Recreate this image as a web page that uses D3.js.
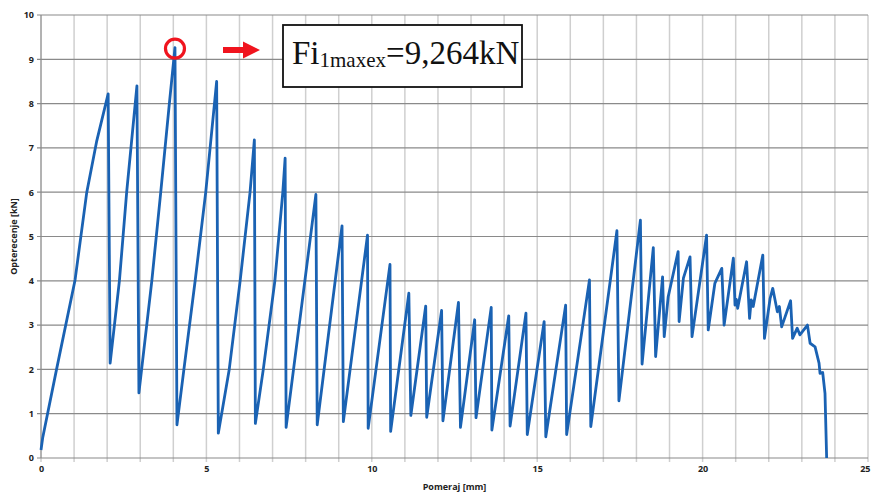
<html>
<head>
  <style>
	body{ margin:0; background:#fff }
	.grid-x line{ stroke:#cfcfcf; stroke-width:1.5px }
	.grid-y line{ stroke:#8a8a8a; stroke-width:1.2px }
	.axis path{ display:none }
	.axis line{ stroke:#8a8a8a }
	.axis text{ font-family:"Open Sans", sans-serif; font-size:9px; font-weight:700; fill:#222 }
	.title{ font-family:"Open Sans", sans-serif; font-size:9px; font-weight:700; fill:#222 }
	.curve{ fill:none; stroke:#1a62b3; stroke-width:2.8px; stroke-linejoin:round }
	.note text{ font-family:"Liberation Serif", "Times New Roman", serif; fill:#111 }
  </style>
</head>
<body>
<div id="chart"></div>
<script src="https://cdn.jsdelivr.net/npm/d3@7/dist/d3.min.js"></script>
<script>
// displacement [mm] / force [kN]
var displacement = [0, 0.05, 0.47, 1.03, 1.38, 1.68, 2.03, 2.09, 2.37, 2.59, 2.90, 2.96,
  3.35, 3.62, 3.88, 4.05, 4.11, 4.32, 4.66, 4.98, 5.31, 5.36, 5.69, 6.02, 6.32, 6.45,
  6.48, 6.72, 7.07, 7.31, 7.38, 7.41, 8.31, 8.35, 9.10, 9.14, 9.87, 9.89, 10.55, 10.57,
  11.12, 11.18, 11.63, 11.66, 12.11, 12.15, 12.62, 12.68, 13.11, 13.15, 13.61, 13.63,
  14.14, 14.18, 14.66, 14.70, 15.21, 15.26, 15.86, 15.89, 16.58, 16.62, 17.41, 17.47,
  18.12, 18.17, 18.51, 18.58, 18.79, 18.84, 18.96, 19.26, 19.29, 19.42, 19.62, 19.68,
  20.12, 20.17, 20.37, 20.58, 20.65, 20.93, 20.98, 21.02, 21.06, 21.33, 21.42, 21.47,
  21.53, 21.82, 21.87, 22.04, 22.12, 22.26, 22.32, 22.39, 22.66, 22.72, 22.86, 22.94,
  23.17, 23.25, 23.40, 23.52, 23.55, 23.63, 23.70, 23.75];
var force = [0.18, 0.45, 2.0, 4.02, 5.98, 7.14, 8.22, 2.14, 4.0, 6.0, 8.40, 1.47,
  4.0, 6.0, 8.0, 9.264, 0.75, 2.0, 4.0, 6.0, 8.50, 0.56, 2.0, 4.0, 6.0, 7.18,
  0.78, 2.0, 4.0, 6.0, 6.77, 0.69, 5.95, 0.75, 5.24, 0.82, 5.03, 0.67, 4.37, 0.60,
  3.72, 0.96, 3.43, 0.92, 3.33, 0.84, 3.51, 0.69, 3.12, 0.91, 3.40, 0.63,
  3.21, 0.72, 3.27, 0.53, 3.08, 0.48, 3.45, 0.53, 4.02, 0.71, 5.13, 1.29,
  5.37, 2.12, 4.75, 2.29, 4.09, 2.74, 3.64, 4.66, 3.08, 4.06, 4.54, 2.74,
  5.03, 2.89, 3.94, 4.28, 3.00, 4.51, 3.45, 3.58, 3.38, 4.43, 3.15, 3.57,
  3.42, 4.58, 2.70, 3.60, 3.83, 3.30, 3.42, 2.96, 3.55, 2.70, 2.93, 2.78,
  3.00, 2.59, 2.51, 2.14, 1.91, 1.93, 1.46, 0];

var xTicks = [0, 5, 10, 15, 20, 25];
var yTicks = [0, 1, 2, 3, 4, 5, 6, 7, 8, 9, 10];
var xGrid = d3.range(0, 26, 1);
var peak = {x: 4.05, y: 9.264};
var noteText = ["Fi", "1maxex", "=9,264kN"];

(function () {
  var width = 871, height = 492,
      left = 41, right = 868, top = 15, bottom = 458;

  var x = d3.scaleLinear().domain([0, 25]).range([left, right]),
      y = d3.scaleLinear().domain([0, 10]).range([bottom, top]);

  var svg = d3.select('#chart').append('svg')
    .attr('width', width)
    .attr('height', height);

  // vertical grid, one per mm, with small ticks under the axis
  svg.append('g').attr('class', 'grid-x')
    .selectAll('line').data(xGrid).enter().append('line')
    .attr('x1', function (d) { return x(d); })
    .attr('x2', function (d) { return x(d); })
    .attr('y1', y(10))
    .attr('y2', bottom + 4);

  // horizontal grid, one per kN
  svg.append('g').attr('class', 'grid-y')
    .selectAll('line').data(yTicks).enter().append('line')
    .attr('x1', left - 4)
    .attr('x2', right)
    .attr('y1', function (d) { return y(d); })
    .attr('y2', function (d) { return y(d); });

  svg.append('line')
    .attr('x1', left).attr('x2', left)
    .attr('y1', top).attr('y2', bottom)
    .attr('stroke', '#8a8a8a');

  var xAxis = svg.append('g').attr('class', 'axis')
    .attr('transform', 'translate(0,' + (bottom + 5) + ')')
    .call(d3.axisBottom(x).tickValues(xTicks).tickSize(0).tickPadding(3));

  // last label sits against the right edge
  xAxis.selectAll('.tick text')
    .filter(function (d) { return d === 25; })
    .attr('text-anchor', 'end')
    .attr('dx', 2);

  svg.append('g').attr('class', 'axis')
    .attr('transform', 'translate(' + (left - 4) + ',0)')
    .call(d3.axisLeft(y).tickValues(yTicks).tickSize(0).tickPadding(3));

  svg.append('text').attr('class', 'title')
    .attr('x', (left + right) / 2)
    .attr('y', 490)
    .attr('text-anchor', 'middle')
    .text('Pomeraj [mm]');

  svg.append('text').attr('class', 'title')
    .attr('transform', 'translate(17,' + ((top + bottom) / 2) + ') rotate(-90)')
    .attr('text-anchor', 'middle')
    .text('Opterecenje [kN]');

  var line = d3.line()
    .x(function (d) { return x(d[0]); })
    .y(function (d) { return y(d[1]); });

  svg.append('path').attr('class', 'curve')
    .attr('d', line(d3.zip(displacement, force)));

  // annotation: circled maximum, arrow and boxed value
  var note = svg.append('g').attr('class', 'note');

  note.append('circle')
    .attr('cx', x(peak.x))
    .attr('cy', y(peak.y) + 1)
    .attr('r', 9.5)
    .attr('fill', 'none')
    .attr('stroke', '#f0141e')
    .attr('stroke-width', 3.2);

  note.append('path')
    .attr('d', 'M223,47 L243,47 L243,41.5 L260,50 L243,58.5 L243,53 L223,53 Z')
    .attr('fill', '#f0141e');

  note.append('rect')
    .attr('x', 283).attr('y', 25)
    .attr('width', 239).attr('height', 62)
    .attr('fill', '#fff')
    .attr('stroke', '#111')
    .attr('stroke-width', 1.8);

  var t = note.append('text').attr('x', 292).attr('y', 64);
  t.append('tspan').attr('font-size', 33).text(noteText[0]);
  t.append('tspan').attr('font-size', 21).attr('dy', 3).text(noteText[1]);
  t.append('tspan').attr('font-size', 33).attr('dy', -3).text(noteText[2]);
})();
</script>
</body>
</html>
